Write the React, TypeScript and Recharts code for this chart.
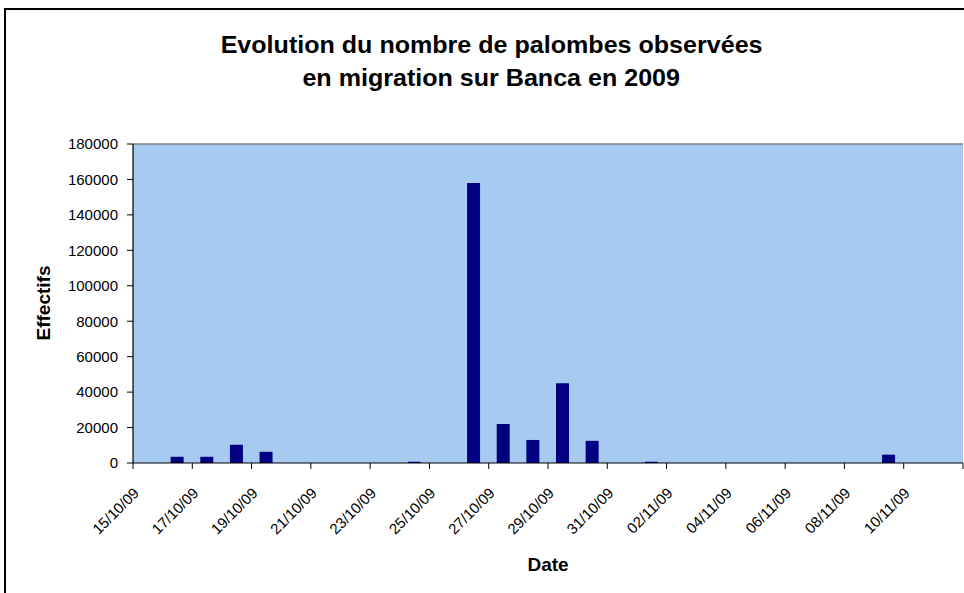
import { BarChart, Bar, XAxis, YAxis, CartesianGrid, ReferenceLine, Label } from "recharts";

// one category per day, 15/10/09 -> 11/11/09
const DATES = [
  "15/10/09", "16/10/09", "17/10/09", "18/10/09", "19/10/09", "20/10/09", "21/10/09",
  "22/10/09", "23/10/09", "24/10/09", "25/10/09", "26/10/09", "27/10/09", "28/10/09",
  "29/10/09", "30/10/09", "31/10/09", "01/11/09", "02/11/09", "03/11/09", "04/11/09",
  "05/11/09", "06/11/09", "07/11/09", "08/11/09", "09/11/09", "10/11/09", "11/11/09",
];

const COUNTS = [
  0, 3500, 3500, 10300, 6300, 0, 0,
  0, 0, 700, 0, 158000, 22000, 13000,
  45000, 12500, 0, 700, 0, 0, 0,
  0, 0, 0, 0, 4700, 0, 0,
];

const Y_TICKS = [0, 20000, 40000, 60000, 80000, 100000, 120000, 140000, 160000, 180000];

const TITLE_LINES = ["Evolution du nombre de palombes observées", "en migration sur Banca en 2009"];

const FONT = '"Liberation Sans", Arial, Helvetica, sans-serif';
const PLOT_LEFT = 133;
const PLOT_RIGHT = 963;
const PLOT_BOTTOM = 463;
const BAND = (PLOT_RIGHT - PLOT_LEFT) / DATES.length;

const data = DATES.map((date, i) => ({ date, count: COUNTS[i] }));

function DateTick({ x, payload }: any) {
  // excel style: tick marks between categories, label ends at the tick
  const x0 = x - BAND / 2;
  const isLast = payload.value === DATES[DATES.length - 2];
  const tx = x0 + 7;
  const ty = PLOT_BOTTOM + 31;
  return (
    <g>
      <line x1={x0} y1={PLOT_BOTTOM} x2={x0} y2={PLOT_BOTTOM + 6} stroke="#000" />
      {isLast && (
        <line x1={x0 + 2 * BAND} y1={PLOT_BOTTOM} x2={x0 + 2 * BAND} y2={PLOT_BOTTOM + 6} stroke="#000" />
      )}
      <text
        x={tx}
        y={ty}
        textAnchor="end"
        transform={`rotate(-45 ${tx} ${ty})`}
        fontSize={15}
        fontFamily={FONT}
        fill="#000"
      >
        {payload.value}
      </text>
    </g>
  );
}

export default function App() {
  return (
    <div
      style={{
        position: "absolute",
        left: 0,
        top: 0,
        width: 964,
        height: 593,
        overflow: "hidden",
        background: "#fff",
        fontFamily: FONT,
      }}
    >
      {/* outer chart frame (cropped on right/bottom) */}
      <div
        style={{
          position: "absolute",
          left: 4,
          top: 8,
          width: 1100,
          height: 700,
          border: "2px solid #000",
        }}
      />

      {/* titre */}
      <div style={{ position: "absolute", left: 0, top: 29, width: 983, textAlign: "center" }}>
        {TITLE_LINES.map((t) => (
          <div key={t} style={{ lineHeight: "33px", height: 33 }}>
            <span
              style={{
                display: "inline-block",
                fontSize: 23,
                fontWeight: "bold",
                color: "#000",
                transform: "scaleX(1.09)",
                whiteSpace: "nowrap",
              }}
            >
              {t}
            </span>
          </div>
        ))}
      </div>

      <div style={{ position: "absolute", left: 0, top: 0 }}>
        <BarChart
          width={964}
          height={593}
          data={data}
          margin={{ top: 144, right: 1, left: 0, bottom: 70 }}
          barSize={13}
        >
          <CartesianGrid fill="#A6CAF0" horizontal={false} vertical={false} />
          <ReferenceLine y={180000} stroke="#808080" strokeWidth={1.5} />
          <XAxis
            dataKey="date"
            height={60}
            interval={1}
            tickLine={false}
            axisLine={{ stroke: "#000", strokeWidth: 1.2 }}
            tick={<DateTick />}
          >
            <Label
              content={() => (
                <text x={548} y={571} textAnchor="middle" fontSize={19} fontWeight="bold" fontFamily={FONT} fill="#000">
                  Date
                </text>
              )}
            />
          </XAxis>
          <YAxis
            width={133}
            domain={[0, 180000]}
            ticks={Y_TICKS}
            interval={0}
            tickSize={6}
            tickMargin={9}
            axisLine={{ stroke: "#000", strokeWidth: 1.2 }}
            tickLine={{ stroke: "#000" }}
            tick={{ fontSize: 15, fill: "#000", fontFamily: FONT }}
          >
            <Label
              content={() => (
                <text
                  x={50}
                  y={303}
                  textAnchor="middle"
                  transform="rotate(-90 50 303)"
                  fontSize={19}
                  fontWeight="bold"
                  fontFamily={FONT}
                  fill="#000"
                >
                  Effectifs
                </text>
              )}
            />
          </YAxis>
          <YAxis
            yAxisId="right"
            orientation="right"
            width={0}
            domain={[0, 180000]}
            tick={false}
            tickLine={false}
            axisLine={{ stroke: "#808080", strokeWidth: 1.5 }}
          />
          <Bar dataKey="count" fill="#000080" isAnimationActive={false} />
        </BarChart>
      </div>
    </div>
  );
}
